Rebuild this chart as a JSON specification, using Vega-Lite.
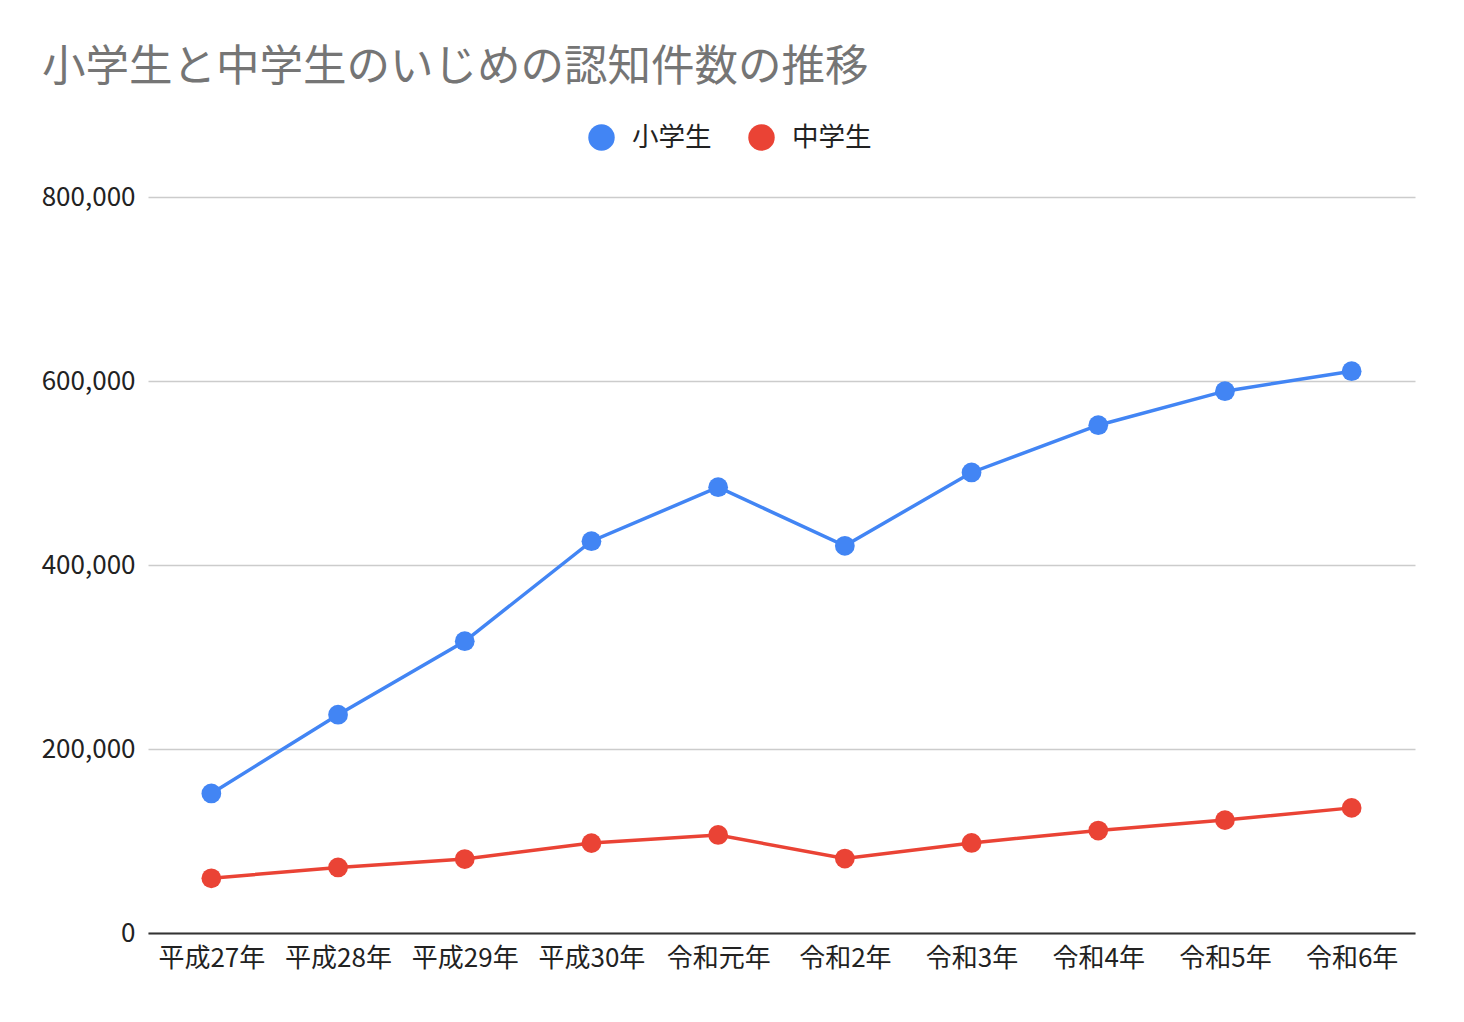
{
  "$schema": "https://vega.github.io/schema/vega-lite/v6.json",
  "width": 1267,
  "height": 736,
  "autosize": {"type": "none"},
  "padding": {"left": 148, "top": 197, "right": 49, "bottom": 89},
  "background": "white",
  "title": {
    "text": "小学生と中学生のいじめの認知件数の推移",
    "anchor": "start",
    "frame": "group",
    "orient": "top",
    "dx": -106,
    "offset": 34,
    "fontSize": 43.5,
    "fontWeight": "normal",
    "color": "#757575",
    "font": "Noto Sans CJK JP"
  },
  "config": {
    "view": {"stroke": null},
    "font": "Noto Sans CJK JP"
  },
  "data": {
    "values": [
      {"year": "平成27年", "series": "小学生", "count": 151692},
      {"year": "平成28年", "series": "小学生", "count": 237256},
      {"year": "平成29年", "series": "小学生", "count": 317121},
      {"year": "平成30年", "series": "小学生", "count": 425844},
      {"year": "令和元年", "series": "小学生", "count": 484545},
      {"year": "令和2年", "series": "小学生", "count": 420897},
      {"year": "令和3年", "series": "小学生", "count": 500562},
      {"year": "令和4年", "series": "小学生", "count": 551944},
      {"year": "令和5年", "series": "小学生", "count": 588930},
      {"year": "令和6年", "series": "小学生", "count": 610612},
      {"year": "平成27年", "series": "中学生", "count": 59502},
      {"year": "平成28年", "series": "中学生", "count": 71309},
      {"year": "平成29年", "series": "中学生", "count": 80424},
      {"year": "平成30年", "series": "中学生", "count": 97704},
      {"year": "令和元年", "series": "中学生", "count": 106524},
      {"year": "令和2年", "series": "中学生", "count": 80877},
      {"year": "令和3年", "series": "中学生", "count": 97937},
      {"year": "令和4年", "series": "中学生", "count": 111404},
      {"year": "令和5年", "series": "中学生", "count": 122703},
      {"year": "令和6年", "series": "中学生", "count": 136000}
    ]
  },
  "encoding": {
    "x": {
      "field": "year",
      "type": "ordinal",
      "sort": ["平成27年", "平成28年", "平成29年", "平成30年", "令和元年", "令和2年", "令和3年", "令和4年", "令和5年", "令和6年"],
      "scale": {"type": "point", "padding": 0.5},
      "axis": {
        "title": null,
        "labelAngle": 0,
        "labelFontSize": 26,
        "labelColor": "#222222",
        "labelPadding": 12,
        "ticks": false,
        "domainColor": "#333333",
        "domainWidth": 2,
        "grid": false,
        "labelFont": "Noto Sans CJK JP"
      }
    },
    "y": {
      "field": "count",
      "type": "quantitative",
      "scale": {"domain": [0, 800000], "nice": false},
      "axis": {
        "title": null,
        "values": [0, 200000, 400000, 600000, 800000],
        "format": ",d",
        "labelFontSize": 26,
        "labelColor": "#222222",
        "labelPadding": 13,
        "ticks": false,
        "domain": false,
        "gridColor": "#cccccc",
        "gridWidth": 1.5,
        "labelFont": "Noto Sans CJK JP"
      }
    },
    "color": {
      "field": "series",
      "type": "nominal",
      "sort": ["小学生", "中学生"],
      "scale": {"domain": ["小学生", "中学生"], "range": ["#4285F4", "#EA4335"]},
      "legend": {
        "title": null,
        "orient": "none",
        "direction": "horizontal",
        "legendX": 440,
        "legendY": -73,
        "symbolType": "circle",
        "symbolSize": 700,
        "symbolStrokeWidth": 0,
        "symbolOpacity": 1,
        "labelFontSize": 26.5,
        "labelColor": "#222222",
        "labelOffset": 17,
        "columnPadding": 36,
        "labelFont": "Noto Sans CJK JP"
      }
    }
  },
  "layer": [
    {
      "mark": {"type": "line", "strokeWidth": 3.5}
    },
    {
      "mark": {"type": "point", "filled": true, "opacity": 1, "size": 390, "shape": "circle"}
    }
  ]
}
